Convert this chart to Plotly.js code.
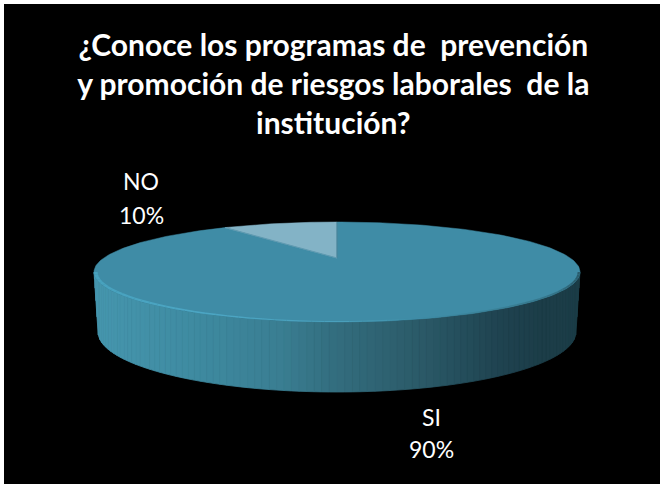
<!DOCTYPE html>
<html>
<head>
<meta charset="utf-8">
<script src="https://cdn.plot.ly/plotly-3.0.1.min.js"></script>
<style>html,body{margin:0;padding:0;background:#fff;overflow:hidden}</style>
</head>
<body>
<div id="chart" style="width:660px;height:484px"></div>
<script>
// Data
var categories = ['SI', 'NO'];
var values = [90, 10];
var sliceColors = ['#3f8ca6', '#83b3c6'];
var chartTitle = '¿Conoce los programas de  prevención<br>y promoción de riesgos laborales  de la<br>institución?';
// Label placement: x centre, y of the name line, y of the percent line
var labelX = [431, 141];
var labelNameY = [417, 181];
var labelPctY = [449, 215];

// Pie geometry (perspective projection of a flat disc)
var cx = 337, apexY = 258, radius = 233.3, scaleV = 46.08, k = 0.28;
var ellY = 272, ellRx = 243, ellRy = 50;
var botY = 332, botRx = 239, botRy = 60;

function project(theta) { // theta clockwise from top, radians
  var u = Math.sin(theta), v = Math.cos(theta), w = 1 + k * v;
  return [cx + radius * u / w, apexY - scaleV * v / w];
}
function lerpColor(stops, x) {
  var i = 0;
  if (x <= stops[0][0]) return stops[0][1];
  if (x >= stops[stops.length - 1][0]) return stops[stops.length - 1][1];
  while (stops[i + 1][0] < x) i++;
  var t = (x - stops[i][0]) / (stops[i + 1][0] - stops[i][0]);
  var a = stops[i][1], b = stops[i + 1][1], out = [];
  for (var c = 0; c < 3; c++) out.push(Math.round(a[c] + (b[c] - a[c]) * t));
  return out;
}
function rgb(c) { return 'rgb(' + c.join(',') + ')'; }
function wallBottom(x) {
  var d = Math.abs(x - cx);
  if (d >= botRx) return botY * (ellRx - d) / (ellRx - botRx) + ellY * (d - botRx) / (ellRx - botRx);
  return botY + botRy * Math.sqrt(1 - d * d / (botRx * botRx));
}
function wallTop(x) {
  var d = Math.min(Math.abs(x - cx), ellRx);
  return ellY + ellRy * Math.sqrt(1 - d * d / (ellRx * ellRx));
}

var wallStops = [[95,[70,150,174]],[200,[62,138,160]],[280,[58,126,146]],[337,[51,109,126]],[420,[43,90,104]],[500,[31,67,80]],[540,[28,61,72]],[580,[28,61,72]]];
var rimStops = [[94,[72,162,190]],[200,[76,166,196]],[340,[74,160,188]],[420,[63,140,166]],[500,[58,128,150]],[560,[52,114,134]],[580,[42,92,108]]];

var traces = [];
var STRIPS = 100;
// Side wall, left to right along the front of the disc, in upright strips
for (var s = 0; s < STRIPS; s++) {
  var x0 = cx - ellRx * Math.cos(Math.PI * s / STRIPS);
  var x1 = cx - ellRx * Math.cos(Math.PI * (s + 1) / STRIPS);
  var xs = [x0, x1, x1, x0, x0];
  var ys = [wallTop(x0), wallTop(x1), wallBottom(x1), wallBottom(x0), wallTop(x0)];
  var col = rgb(lerpColor(wallStops, (x0 + x1) / 2));
  traces.push({x: xs, y: ys, mode: 'lines', fill: 'toself', fillcolor: col, line: {color: col, width: 0.8}, hoverinfo: 'skip', showlegend: false});
}

// Top face slices, built from the values
var total = values.reduce(function (p, c) { return p + c; }, 0);
var start = 0;
var edgeTraces = [];
categories.forEach(function (name, i) {
  var sweep = 2 * Math.PI * values[i] / total;
  var xs = [cx], ys = [apexY], n = Math.max(8, Math.round(values[i] * 3));
  for (var j = 0; j <= n; j++) {
    var p = project(start + sweep * j / n);
    xs.push(p[0]); ys.push(p[1]);
  }
  xs.push(cx); ys.push(apexY);
  traces.push({x: xs, y: ys, name: name, mode: 'lines', fill: 'toself', fillcolor: sliceColors[i],
    line: {color: sliceColors[i], width: 0.5}, text: name + ' ' + Math.round(100 * values[i] / total) + '%',
    hoverinfo: 'text', showlegend: false});
  var e = project(start);
  edgeTraces.push({x: [cx, e[0]], y: [apexY, e[1]], mode: 'lines', line: {color: i === 1 ? '#5f9bb2' : '#3a7a90', width: 1}, hoverinfo: 'skip', showlegend: false});
  start += sweep;
});
traces = traces.concat(edgeTraces);

// Bevel along the front rim of the top face
var RIM = 60;
for (var r = 0; r < RIM; r++) {
  var b0 = Math.PI * r / RIM, b1 = Math.PI * (r + 1) / RIM;
  var taper = function (a) { var c = Math.cos(a); return 1 + (c > 0 ? 2.6 : 1.4) * c * c; };
  var rx = [], ry = [];
  [b0, b1].forEach(function (a) { rx.push(cx - ellRx * Math.cos(a)); ry.push(ellY + ellRy * Math.sin(a)); });
  [b1, b0].forEach(function (a) { var t = taper(a); rx.push(cx - (ellRx - t) * Math.cos(a)); ry.push(ellY + (ellRy - t) * Math.sin(a)); });
  rx.push(rx[0]); ry.push(ry[0]);
  var rc = rgb(lerpColor(rimStops, (rx[0] + rx[1]) / 2));
  traces.push({x: rx, y: ry, mode: 'lines', fill: 'toself', fillcolor: rc, line: {color: rc, width: 0}, hoverinfo: 'skip', showlegend: false});
}

var anns = [];
categories.forEach(function (name, i) {
  var pct = Math.round(100 * values[i] / total) + '%';
  anns.push({x: labelX[i], y: labelNameY[i], text: name, xref: 'x', yref: 'y', showarrow: false, xanchor: 'center', yanchor: 'middle'});
  anns.push({x: labelX[i], y: labelPctY[i], text: pct, xref: 'x', yref: 'y', showarrow: false, xanchor: 'center', yanchor: 'middle'});
});
anns.forEach(function (a) { a.font = {family: 'Lato, sans-serif', size: 23, color: '#ffffff'}; });

var layout = {
  width: 660, height: 484,
  margin: {l: 0, r: 0, t: 0, b: 0},
  paper_bgcolor: '#ffffff',
  plot_bgcolor: '#ffffff',
  showlegend: false,
  title: {text: '<b>' + chartTitle + '</b>', x: 0.505, xanchor: 'center', y: 0.885, yanchor: 'top',
    font: {family: 'Lato, sans-serif', size: 30, color: '#ffffff'}},
  xaxis: {range: [0, 660], visible: false, fixedrange: true},
  yaxis: {range: [484, 0], visible: false, fixedrange: true},
  shapes: [{type: 'rect', xref: 'x', yref: 'y', x0: 4, y0: 4, x1: 660, y1: 484, fillcolor: '#000000', line: {width: 0}, layer: 'below'}],
  annotations: anns
};
Plotly.newPlot('chart', traces, layout, {displayModeBar: false, responsive: false});
</script>
</body>
</html>
